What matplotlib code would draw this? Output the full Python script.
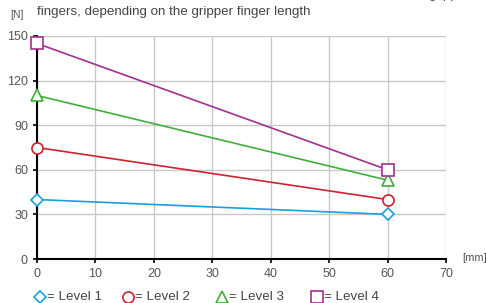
import numpy as np
import matplotlib.pyplot as plt
from matplotlib.lines import Line2D

length = [0, 60]
level1 = [40, 30]
level2 = [75, 40]
level3 = [110, 53]
level4 = [145, 60]
labels = ["= Level 1", "= Level 2", "= Level 3", "= Level 4"]
colors = ["#1a9fe0", "#d0202e", "#3fae3a", "#a2308f"]
markers = ["D", "o", "^", "s"]
sizes = [6, 8, 8, 8]

plt.rcParams['font.family'] = ['Liberation Sans', 'DejaVu Sans']

fig = plt.figure(figsize=(4.86, 3.03), dpi=100)
ax = fig.add_axes([37/486, 1-259/303, (446-37)/486, (259-36)/303])

for vals, c, m, s, lab in zip([level1, level2, level3, level4], colors, markers, sizes, labels):
    ax.plot(length, vals, color=c, lw=1.2, marker=m, ms=s, mfc='white',
            mec=c, mew=1.2, label=lab, zorder=3, clip_on=False)

ax.set_xlim(0, 70)
ax.set_ylim(0, 150)
ax.set_xticks(np.arange(0, 71, 10))
ax.set_yticks(np.arange(0, 151, 30))
ax.grid(True, color='#c8c8c8', lw=1)
ax.set_axisbelow(True)
for s in ['top', 'right']:
    ax.spines[s].set_visible(False)
for s in ['left', 'bottom']:
    ax.spines[s].set_color('black')
    ax.spines[s].set_linewidth(1.5)
    ax.spines[s].set_zorder(2)
ax.tick_params(colors='black', labelcolor='#555555', labelsize=9, length=3, width=1.2)

fig.text(10/486, 1-15/303, "[N]", fontsize=7.5, color='#555555', va='center')
fig.text(462/486, 1-258/303, "[mm]", fontsize=8, color='#555555', va='center')
fig.text(37/486, 1-12/303, "fingers, depending on the gripper finger length",
         fontsize=9.6, color='#444444', va='center')
fig.text(428/486, 1+5/303, "gripper", fontsize=9.6, color='#444444', va='center')

# legend row below the axis
mark_x = [40, 128, 222, 317]
for x, c, m, s, lab in zip(mark_x, colors, markers, sizes, labels):
    fig.add_artist(Line2D([x/486], [1-297/303], ls='none', marker=m, ms=s, mfc='white',
                          mec=c, mew=1.2, transform=fig.transFigure))
    fig.text((x+7)/486, 1-297/303, lab, fontsize=9.6, color='#444444', va='center')

fig.savefig("out.png", dpi=100)
